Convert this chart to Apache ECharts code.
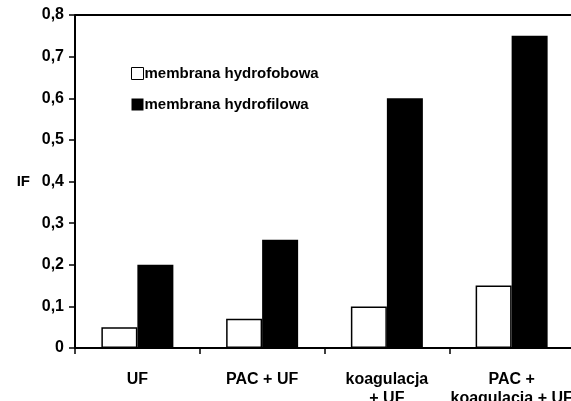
<!DOCTYPE html>
<html>
<head>
<meta charset="utf-8">
<script src="https://cdn.jsdelivr.net/npm/echarts@6/dist/echarts.min.js"></script>
<style>
  html, body { margin: 0; padding: 0; background: #fff; }
  #chart { width: 571px; height: 401px; }
</style>
</head>
<body>
<div id="chart"></div>
<script>
const categories = ["UF", "PAC + UF", "koagulacja\n+ UF", "PAC +\nkoagulacja + UF"];
const hydrofobowa = [0.05, 0.07, 0.10, 0.15];
const hydrofilowa = [0.20, 0.26, 0.60, 0.75];
const yTicks = [0, 0.1, 0.2, 0.3, 0.4, 0.5, 0.6, 0.7, 0.8];

const font = "Liberation Sans, Arial, sans-serif";
const chart = echarts.init(document.getElementById("chart"));

chart.setOption({
  animation: false,
  textStyle: { fontFamily: font },
  grid: { left: 75, right: -3, top: 15, bottom: 53, outerBoundsMode: "none", containLabel: false },
  legend: {
    orient: "vertical",
    left: 126,
    top: 61,
    itemWidth: 12,
    itemHeight: 12,
    itemGap: 16,
    textStyle: { fontSize: 15, fontWeight: "bold", color: "#000", fontFamily: font, padding: [0, 0, 0, -4] },
    data: [
      { name: "membrana hydrofobowa", icon: "rect", itemStyle: { color: "#fff", borderColor: "#000", borderWidth: 1 } },
      { name: "membrana hydrofilowa", icon: "rect", itemStyle: { color: "#000" } },
    ],
  },
  xAxis: {
    type: "category",
    data: categories,
    axisLine: { lineStyle: { color: "#000", width: 2 } },
    axisTick: { show: true, length: 6, lineStyle: { color: "#000", width: 1.5 } },
    axisLabel: { color: "#000", fontSize: 16, fontWeight: "bold", margin: 22, lineHeight: 19, interval: 0 },
  },
  yAxis: {
    type: "value",
    min: 0,
    max: 0.8,
    interval: 0.1,
    name: "IF",
    nameLocation: "middle",
    nameRotate: 0,
    nameGap: 45,
    nameTextStyle: { color: "#000", fontSize: 15, fontWeight: "bold" },
    axisLine: { show: true, lineStyle: { color: "#000", width: 2 } },
    axisTick: { show: true, length: 6, lineStyle: { color: "#000", width: 1.5 } },
    axisLabel: {
      color: "#000", fontSize: 16, fontWeight: "bold", margin: 11,
      formatter: (v) => {
        const t = yTicks.find((x) => Math.abs(x - v) < 1e-9);
        return t === 0 ? "0" : (t ?? v).toFixed(1).replace(".", ",");
      },
    },
    splitLine: { show: false },
  },
  graphic: [
    { type: "line", shape: { x1: 75, y1: 15, x2: 571, y2: 15 }, style: { stroke: "#000", lineWidth: 2 } },
  ],
  series: [
    {
      name: "membrana hydrofobowa",
      type: "bar",
      data: hydrofobowa,
      barWidth: 36,
      barGap: "0%",
      itemStyle: { color: "#fff", borderColor: "#000", borderWidth: 1.5 },
    },
    {
      name: "membrana hydrofilowa",
      type: "bar",
      data: hydrofilowa,
      barWidth: 36,
      itemStyle: { color: "#000" },
    },
  ],
});
</script>
</body>
</html>
